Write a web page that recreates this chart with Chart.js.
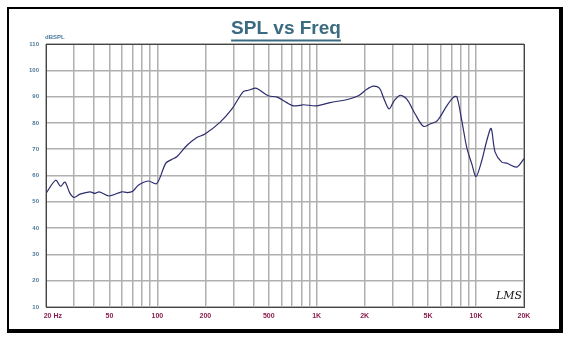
<!DOCTYPE html>
<html>
<head>
<meta charset="utf-8">
<script src="https://cdn.jsdelivr.net/npm/chart.js@4"></script>
<style>
  html,body{margin:0;padding:0;background:#fff;}
  #wrap{position:relative;width:570px;height:352px;}
  #frame{position:absolute;left:7px;top:7px;width:550px;height:320px;border-style:solid;border-color:#000;border-width:2px 4px 4px 2px;}
  canvas{position:absolute;left:0;top:0;}
</style>
</head>
<body>
<div id="wrap">
  <div id="frame"></div>
  <canvas id="splChart" width="570" height="352"></canvas>
</div>
<script>
// frequency response (Hz, dB SPL)
const freqs = [20, 23, 24.7, 26.3, 28.3, 30, 32.7, 37.8, 40.6, 43.2, 49.7, 59.7, 64.8, 70, 75.9, 87.7, 99,
  113, 123, 133, 153, 175, 199, 247, 293, 346, 372, 410, 430, 497, 566, 649, 714, 786, 825, 1000, 1213,
  1580, 1826, 2062, 2268, 2475, 2622, 2846, 3060, 3336, 3676, 4146, 4672, 5146, 5722, 6552, 7210, 7574,
  8138, 8748, 9406, 10008, 10870, 11684, 12432, 13172, 14508, 15596, 18024, 20000];
const spl = [53.2, 58.2, 55.9, 57.5, 53.2, 51.7, 52.9, 53.8, 53.2, 53.8, 52.2, 53.8, 53.5, 54, 56.3, 57.9, 56.9,
  64.7, 66.1, 67.2, 71.4, 74.3, 75.8, 80.2, 85.2, 91.9, 92.4, 93.2, 92.8, 90.3, 89.8, 87.7, 86.5, 86.7, 86.9, 86.5, 87.7,
  89.0, 90.3, 92.8, 94.0, 93.2, 89.7, 85.3, 88.4, 90.5, 89.0, 83.4, 78.7, 79.6, 80.9, 86.5, 89.7, 90,
  80.9, 70.6, 64.4, 59.6, 65.7, 73.3, 77.9, 68.9, 65.1, 64.7, 63.2, 66.4];

const gridFreqs = [20, 30, 40, 50, 60, 70, 80, 90, 100, 200, 300, 400, 500, 600, 700, 800, 900,
  1000, 2000, 3000, 4000, 5000, 6000, 7000, 8000, 9000, 10000, 20000];
const xLabels = {20:'       20 Hz', 50:'50', 100:'100', 200:'200', 500:'500', 1000:'1K', 2000:'2K', 5000:'5K', 10000:'10K', 20000:'20K'};

const decor = {
  id:'decor',
  afterDraw(chart){
    const {ctx, chartArea:a} = chart;
    ctx.save();
    ctx.strokeStyle = '#444';
    ctx.lineWidth = 1;
    ctx.strokeRect(a.left+0.5, a.top+0.5, a.right-a.left, a.bottom-a.top);
    // title
    ctx.fillStyle = '#3a6b80';
    ctx.font = "bold 19px 'Liberation Sans', Arial, sans-serif";
    ctx.textAlign = 'center';
    ctx.textBaseline = 'alphabetic';
    ctx.fillText('SPL vs Freq', 286, 34);
    const w = ctx.measureText('SPL vs Freq').width;
    ctx.fillRect(286 - w/2, 39.5, w, 2);
    // unit label
    ctx.fillStyle = '#4b7a9a';
    ctx.font = "bold 6px 'Liberation Sans', Arial, sans-serif";
    ctx.textAlign = 'left';
    ctx.fillText('dBSPL', 45, 39);
    // logo
    ctx.fillStyle = '#111';
    ctx.font = "italic 11px 'DejaVu Serif', serif";
    ctx.fillText('LMS', 496, 299);
    ctx.restore();
  }
};

new Chart(document.getElementById('splChart'), {
  type:'line',
  data:{ datasets:[{ data: freqs.map((f,i)=>({x:f, y:spl[i]})), borderColor:'#2c2c6e', borderWidth:1.2, pointRadius:0, tension:0.3, fill:false }] },
  options:{
    responsive:false, animation:false,
    layout:{ padding:{ left:0, right:46, top:44, bottom:0 } },
    plugins:{ legend:{display:false}, tooltip:{enabled:false} },
    scales:{
      x:{
        type:'logarithmic', min:20, max:20000,
        afterBuildTicks: s => { s.ticks = gridFreqs.map(v=>({value:v})); },
        afterFit: s => { s.height = 45; },
        grid:{ color:'#b0b0b0', lineWidth:1.5, drawTicks:false },
        border:{ display:false },
        ticks:{ autoSkip:false, maxRotation:0, padding:5, color:'#8b1c4e', font:{ size:7, weight:'bold', family:"'Liberation Sans', Arial" },
          callback: v => xLabels[v] || '' }
      },
      y:{
        min:10, max:110,
        afterFit: s => { s.width = 46; },
        grid:{ color:'#b0b0b0', lineWidth:1.5, drawTicks:false },
        border:{ display:false },
        ticks:{ stepSize:10, padding:7, color:'#4b7a9a', font:{ size:6, weight:'bold', family:"'Liberation Sans', Arial" } }
      }
    }
  },
  plugins:[decor]
});
</script>
</body>
</html>
